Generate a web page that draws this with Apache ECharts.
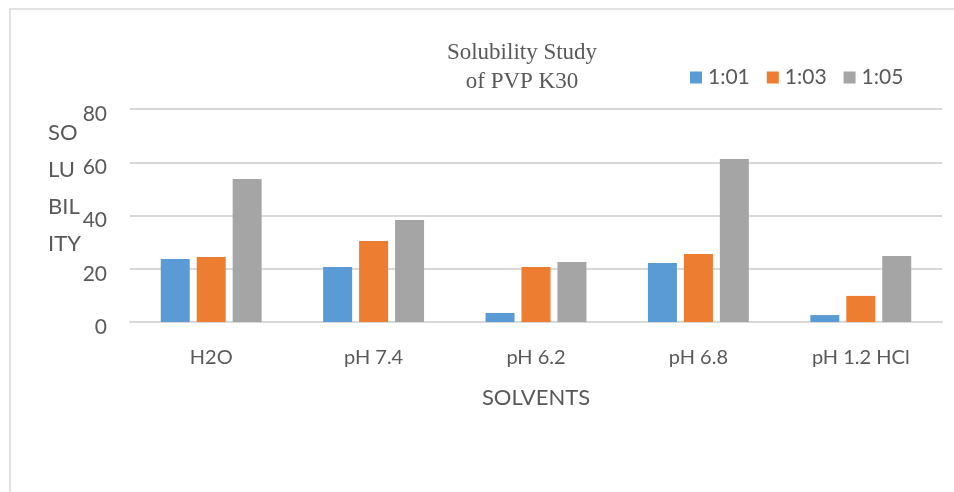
<!DOCTYPE html>
<html>
<head>
<meta charset="utf-8">
<script src="https://cdn.jsdelivr.net/npm/echarts@6/dist/echarts.min.js"></script>
<style>html,body{margin:0;padding:0;background:#fff}#c{width:954px;height:492px}</style>
</head>
<body>
<div id="c"></div>
<script>
const categories = ['H2O', 'pH 7.4', 'pH 6.2', 'pH 6.8', 'pH 1.2 HCl'];
const seriesNames = ['1:01', '1:03', '1:05'];
const s101 = [23.7, 20.7, 3.4, 22.2, 2.6];
const s103 = [24.4, 30.4, 20.7, 25.5, 9.8];
const s105 = [53.7, 38.3, 22.5, 61.2, 24.8];
const yTicks = [0, 20, 40, 60, 80];

const colors = ['#5B9BD5', '#ED7D31', '#A5A5A5'];
const txt = '#595959';
const font = 'Lato, "Open Sans", sans-serif';

const chart = echarts.init(document.getElementById('c'), null, {renderer: 'canvas'});
const values = [s101, s103, s105];
chart.setOption({
  animation: false,
  backgroundColor: '#fff',
  title: {
    text: 'Solubility Study\nof PVP K30',
    left: 517, top: 33, textAlign: 'center',
    textStyle: {fontFamily: '"Liberation Serif", serif', fontSize: 23, fontWeight: 'normal', color: txt, lineHeight: 29}
  },
  legend: {
    data: seriesNames,
    left: 685, top: 62,
    itemWidth: 12, itemHeight: 12, itemGap: 17,
    textStyle: {fontFamily: font, fontSize: 21, color: txt, padding: [4, 0, 0, 1]},
    icon: 'rect'
  },
  graphic: [
    {type: 'polyline', shape: {points: [[10, 492], [10, 9], [954, 9]]}, style: {stroke: '#D9D9D9', lineWidth: 1.5, fill: null}},
    {type: 'text', left: 48, top: 114, style: {text: 'SO\nLU\nBIL\nITY', font: '22px ' + font, fill: txt, lineHeight: 37}}
  ],
  grid: {left: 130, right: 12, top: 109, bottom: 170},
  xAxis: {
    type: 'category', data: categories,
    axisLine: {lineStyle: {color: '#D9D9D9', width: 2}},
    axisTick: {show: false},
    axisLabel: {margin: 26, fontFamily: font, fontSize: 20, color: txt},
    name: 'SOLVENTS', nameLocation: 'middle', nameGap: 65,
    nameTextStyle: {fontFamily: font, fontSize: 22, color: txt}
  },
  yAxis: {
    type: 'value', min: 0, max: 80, interval: 20,
    axisLine: {show: false}, axisTick: {show: false},
    splitLine: {lineStyle: {color: '#D9D9D9', width: 2}},
    axisLabel: {margin: 23, fontFamily: font, fontSize: 21, color: txt, verticalAlign: 'top', lineHeight: 10,
      formatter: v => yTicks.includes(v) ? String(v) : ''}
  },
  series: values.map((d, i) => ({
    name: seriesNames[i], type: 'bar', data: d,
    barWidth: 29, barGap: '24%',
    itemStyle: {color: colors[i]}
  }))
});
</script>
</body>
</html>
